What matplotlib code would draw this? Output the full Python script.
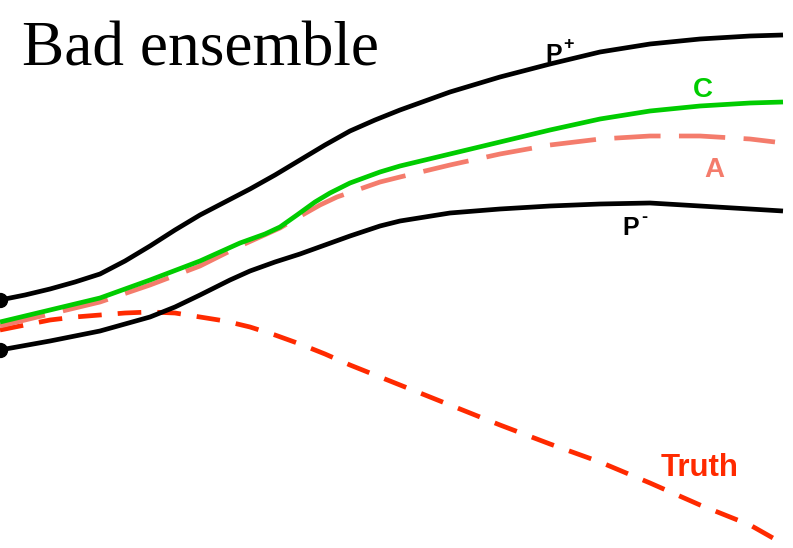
import matplotlib
matplotlib.use("Agg")
import matplotlib.pyplot as plt

# Data (horizontal position, vertical value; value axis increases downward like the image)
x_pplus = [0, 25, 50, 75, 100, 125, 150, 175, 200, 225, 250, 275, 300, 325, 350, 375, 400,
           450, 500, 550, 600, 650, 700, 750, 783]
y_pplus = [300, 295, 289, 282, 274, 261, 246, 230, 215, 202, 189, 175, 160, 145, 131, 120, 110,
           92, 77, 64, 52, 44, 39, 36, 35]

x_c = [0, 50, 100, 125, 150, 200, 240, 265, 280, 297, 315, 330, 350, 380, 400,
       450, 500, 550, 600, 650, 700, 750, 783]
y_c = [322, 310, 298, 289, 280, 261, 243, 234, 227, 215, 202, 193, 183, 172, 166,
       154, 142, 130, 119, 111, 106, 103, 102]

x_a = [0, 50, 100, 150, 200, 240, 280, 297, 320, 337, 357, 380, 400,
       450, 500, 550, 600, 650, 700, 750, 775]
y_a = [326, 314, 302, 285, 266, 246, 228, 218, 205, 197, 190, 182, 177,
       165, 154, 145, 139, 136, 136, 139, 142]

x_pminus = [0, 50, 100, 125, 150, 175, 200, 230, 250, 275, 300, 325, 350, 380, 400,
            450, 500, 550, 600, 650, 700, 750, 783]
y_pminus = [350, 341, 331, 324, 317, 307, 295, 280, 271, 262, 254, 245, 236, 226, 221,
            213, 209, 206, 204, 203, 206, 209, 211]

x_truth = [0, 25, 50, 75, 100, 125, 150, 175, 200, 225, 250, 275, 300, 325, 350,
           400, 450, 500, 550, 600, 650, 700, 750, 780]
y_truth = [330, 325, 320, 317, 315, 313, 312, 313, 317, 321, 327, 335, 344, 354, 365,
           385, 405, 425, 444, 462, 483, 505, 525, 542]

title = "Bad ensemble"

fig = plt.figure(figsize=(7.93, 5.48), dpi=100)
ax = fig.add_axes([0, 0, 1, 1])
ax.set_xlim(0, 793)
ax.set_ylim(548, 0)
ax.axis("off")

lw = 3.4
ax.plot(x_truth, y_truth, color="#FF2A00", lw=lw, dashes=(5.0, 3.4),
        dash_capstyle="butt", dash_joinstyle="round")
ax.plot(x_a, y_a, color="#F47C6C", lw=lw, dashes=(9.8, 3.9),
        dash_capstyle="butt", dash_joinstyle="round")
ax.plot(x_pminus, y_pminus, color="black", lw=lw, solid_capstyle="butt", solid_joinstyle="round")
ax.plot(x_c, y_c, color="#00CC00", lw=lw, solid_capstyle="butt", solid_joinstyle="round")
ax.plot(x_pplus, y_pplus, color="black", lw=lw, solid_capstyle="butt", solid_joinstyle="round")

ax.plot([x_pplus[0], x_pminus[0]], [y_pplus[0], y_pminus[0]], "o", color="black",
        ms=10, clip_on=False, zorder=5)

ax.text(22, 65, title, fontsize=45.5, family="Liberation Serif", va="baseline", ha="left")

lab = dict(family="Liberation Sans", fontweight="bold", va="center", ha="center")
sup = dict(family="Liberation Sans", fontweight="bold", va="center", ha="left")
ax.text(554, 55, "P", color="black", fontsize=18, **lab)
ax.text(563, 44, "+", color="black", fontsize=13, **sup)
ax.text(703, 90, "C", color="#00CC00", fontsize=20, **lab)
ax.text(714, 170, "A", color="#F47C6C", fontsize=20, **lab)
ax.text(631, 228, "P", color="black", fontsize=18, **lab)
ax.text(641, 217, "-", color="black", fontsize=13, **sup)
ax.text(700, 468, "Truth", color="#FF2A00", fontsize=22.5, **lab)

fig.savefig("out.png", dpi=100)
